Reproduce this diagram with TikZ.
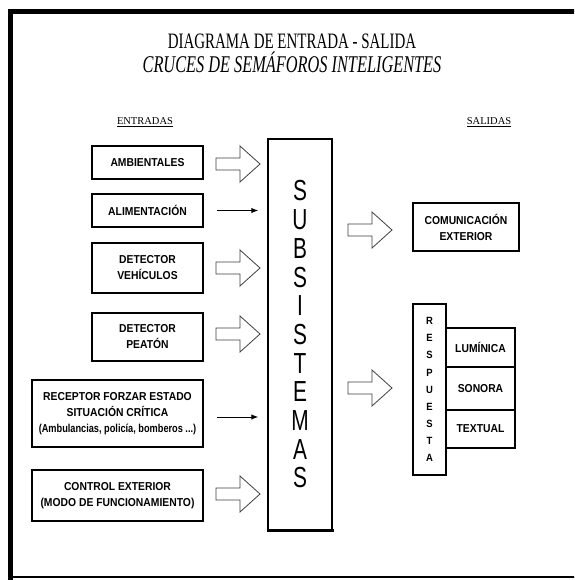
\documentclass[tikz,border=0pt]{standalone}
\usepackage{fontspec}
\setmainfont{Liberation Serif}
\newfontfamily\titlefont[FakeStretch=0.68]{Liberation Serif}
\newfontfamily\boxfont[FakeStretch=0.9]{Liberation Sans}
\newfontfamily\smallboxfont[FakeStretch=0.8]{Liberation Sans}
\newfontfamily\subfont[FakeStretch=0.72]{Liberation Sans}
\usetikzlibrary{arrows.meta}
\tikzset{
  box/.style={draw, line width=2pt, inner sep=0pt, align=center,
    font={\boxfont\bfseries\fontsize{11.5pt}{16pt}\selectfont}},
  thinarr/.style={line width=1pt, -{Latex[length=7pt,width=5.5pt]}},
  harrow/.pic={\draw[line width=0.8pt, draw=black!75, fill=white]
    (0,-6) -- (24,-6) -- (24,-18) -- (44,0) -- (24,18) -- (24,6) -- (0,6) -- cycle;},
  headtext/.style={anchor=base, inner sep=0pt}
}
\begin{document}
\begin{tikzpicture}[x=1pt,y=-1pt]
\useasboundingbox (0,0) rectangle (574,580);
\clip (0,0) rectangle (574,580);
\fill[white] (0,0) rectangle (574,580);
% frame
\draw[line width=5pt] (8,11.5) -- (580,11.5);
\draw[line width=4.5pt] (10.25,9) -- (10.25,580);
\draw[line width=1.5pt] (8,577) -- (580,577);
% titles
\node[headtext, font={\titlefont\fontsize{22pt}{24pt}\selectfont}] (t1) at (292,49) {DIAGRAMA DE ENTRADA - SALIDA};
\node[headtext, font={\titlefont\itshape\fontsize{24pt}{26pt}\selectfont}] (t2) at (292,73) {CRUCES DE SEMÁFOROS INTELIGENTES};
\node[headtext, font={\fontsize{10.5pt}{12pt}\selectfont}] (ent) at (145,125) {\underline{ENTRADAS}};
\node[headtext, font={\fontsize{10.5pt}{12pt}\selectfont}] (sal) at (489,125) {\underline{SALIDAS}};
% inputs
\node[box, minimum width=111pt, minimum height=33pt] (amb) at (147.5,162.5) {AMBIENTALES};
\node[box, minimum width=111pt, minimum height=33pt] (ali) at (147.5,210.5) {ALIMENTACIÓN};
\node[box, minimum width=111pt, minimum height=50pt] (veh) at (147.5,268) {DETECTOR\\VEHÍCULOS};
\node[box, minimum width=111pt, minimum height=48pt] (pea) at (147.5,337) {DETECTOR\\PEATÓN};
\node[box, minimum width=171pt, minimum height=67pt] (rec) at (117.5,413.5) {RECEPTOR FORZAR ESTADO\\SITUACIÓN CRÍTICA\\{\smallboxfont\bfseries(Ambulancias, policía, bomberos ...)}};
\node[box, minimum width=171pt, minimum height=51pt] (con) at (117.5,495.5) {CONTROL EXTERIOR\\(MODO DE FUNCIONAMIENTO)};
% subsystems
\node[draw, line width=1.5pt, minimum width=64pt, minimum height=391pt, inner sep=0pt, align=center,
  font={\subfont\fontsize{29pt}{28.7pt}\selectfont}] (sub) at (300,334.5) {S\\U\\B\\S\\I\\S\\T\\E\\M\\A\\S};
\draw[line width=3pt] ([xshift=-0.75pt]sub.south west) -- ([xshift=0.75pt]sub.south east);
% outputs
\node[box, minimum width=106pt, minimum height=48pt] (com) at (466,227) {COMUNICACIÓN\\EXTERIOR};
\node[box, minimum width=33pt, minimum height=171pt, font={\boxfont\bfseries\fontsize{10.5pt}{17.1pt}\selectfont}] (resp) at (429.5,389.5) {R\\E\\S\\P\\U\\E\\S\\T\\A};
\node[box, minimum width=69pt, minimum height=39pt] (lum) at (480.5,347.5) {LUMÍNICA};
\node[box, minimum width=69pt, minimum height=43pt] (son) at (480.5,388.5) {SONORA};
\node[box, minimum width=69pt, minimum height=38pt] (tex) at (480.5,429) {TEXTUAL};
% hollow arrows
\pic at (216,164) {harrow};
\pic at (216,268) {harrow};
\pic at (216,334) {harrow};
\pic at (216,494) {harrow};
\pic at (348,230) {harrow};
\pic at (348,388) {harrow};
% thin arrows
\draw[thinarr, shorten <=13pt, shorten >=9pt] (ali.east) -- (ali.east -| sub.west);
\draw[thinarr, shorten <=13pt, shorten >=9pt] ([yshift=-3.5pt]rec.east) -- ([yshift=-3.5pt]rec.east -| sub.west);
\end{tikzpicture}
\end{document}
